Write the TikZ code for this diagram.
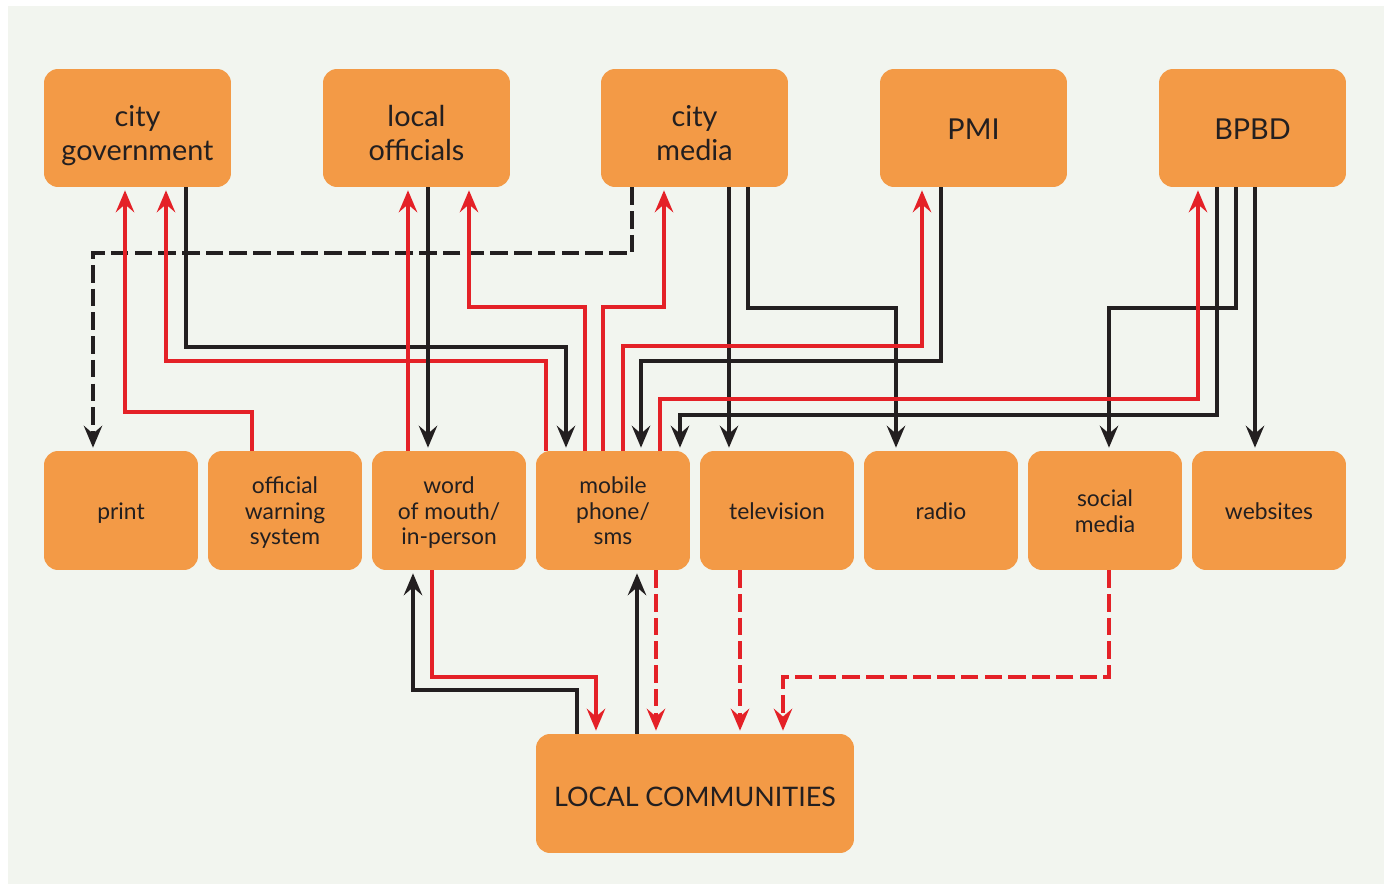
\documentclass[tikz,border=0pt]{standalone}
\usepackage{fontspec}
\setmainfont{Lato}
\usetikzlibrary{arrows.meta}
\definecolor{boxorange}{HTML}{F39A46}
\definecolor{linered}{HTML}{E42127}
\definecolor{lineblack}{HTML}{231F20}
\definecolor{paper}{HTML}{F2F5EF}
\begin{document}
\begin{tikzpicture}[x=0.02cm,y=-0.02cm,
  box/.style={fill=boxorange,rounded corners=0.28cm,inner sep=0pt,align=center,text=lineblack},
  lift/.style={execute at begin node={\rule{0pt}{#1}}},
  topbox/.style={box,minimum width=3.74cm,minimum height=2.36cm,font=\fontsize{16.4}{18.9}\selectfont,
    lift=17pt,text depth=3.4pt},
  top2/.style={topbox,lift=40pt},
  midbox/.style={box,minimum width=3.08cm,minimum height=2.38cm,font=\fontsize{13}{14.7}\selectfont,
    lift=13.8pt,text depth=4pt},
  mid2/.style={midbox,lift=28.5pt},
  mid3/.style={midbox,lift=43.2pt},
  lowbox/.style={box,minimum width=6.36cm,minimum height=2.38cm,font=\fontsize{15.3}{18}\selectfont,
    lift=15.5pt,text depth=1.2pt},
  tip/.style={-{Stealth[length=12.5pt,width=10.5pt,inset=4.5pt]},shorten >=1.7pt},
  rline/.style={draw=linered,line width=1.8pt,tip},
  bline/.style={draw=lineblack,line width=1.8pt,tip},
  dashes/.style={dash pattern=on 10pt off 3.5pt}]
\useasboundingbox (0,0) rectangle (1384,884);
\fill [paper] (8,6) rectangle (1384,884);
\node [top2] (cg) at (137.5,128) {city\\government};
\node [top2] (lo) at (416.5,128) {local\\officials};
\node [top2] (cm) at (694.5,128) {city\\media};
\node [topbox] (pmi) at (973.5,128) {PMI};
\node [topbox] (bpbd) at (1252.5,128) {BPBD};
\node [midbox] (print) at (121,510.5) {print};
\node [mid3] (ows) at (285,510.5) {official\\warning\\system};
\node [mid3] (wom) at (449,510.5) {word\\of mouth/\\in-person};
\node [mid3] (mob) at (613,510.5) {mobile\\phone/\\sms};
\node [midbox] (tv) at (777,510.5) {television};
\node [midbox] (radio) at (941,510.5) {radio};
\node [mid2] (sm) at (1105,510.5) {social\\media};
\node [midbox] (web) at (1269,510.5) {websites};
\node [lowbox] (lc) at (695,793.5) {LOCAL COMMUNITIES};
\draw [bline,dashes] (cm.south -| 632,0) |- (93,253) -- (print.north -| 93,0);
\draw [rline] (ows.north -| 252,0) |- (125,412) -- (cg.south -| 125,0);
\draw [rline] (mob.north -| 546,0) |- (166,361) -- (cg.south -| 166,0);
\draw [bline] (cg.south -| 186,0) |- (566,347) -- (mob.north -| 566,0);
\draw [rline] (wom.north -| 408,0) -- (lo.south -| 408,0);
\draw [bline] (lo.south -| 428,0) -- (wom.north -| 428,0);
\draw [rline] (mob.north -| 585,0) |- (469,307) -- (lo.south -| 469,0);
\draw [rline] (mob.north -| 603,0) |- (664,307) -- (cm.south -| 664,0);
\draw [bline] (cm.south -| 729,0) -- (tv.north -| 729,0);
\draw [bline] (cm.south -| 748,0) |- (896,308) -- (radio.north -| 896,0);
\draw [bline] (bpbd.south -| 1236,0) |- (1109,308) -- (sm.north -| 1109,0);
\draw [bline] (bpbd.south -| 1255,0) -- (web.north -| 1255,0);
\draw [rline] (mob.north -| 623,0) |- (922,346) -- (pmi.south -| 922,0);
\draw [bline] (pmi.south -| 941,0) |- (641,361) -- (mob.north -| 641,0);
\draw [rline] (mob.north -| 660,0) |- (1198,399) -- (bpbd.south -| 1198,0);
\draw [bline] (bpbd.south -| 1217,0) |- (680,415) -- (mob.north -| 680,0);
\draw [bline] (lc.north -| 577,0) |- (413,690) -- (wom.south -| 413,0);
\draw [rline] (wom.south -| 432,0) |- (596,677) -- (lc.north -| 596,0);
\draw [bline] (lc.north -| 637,0) -- (mob.south -| 637,0);
\draw [rline,dashes] (mob.south -| 656,0) -- (lc.north -| 656,0);
\draw [rline,dashes] (tv.south -| 740,0) -- (lc.north -| 740,0);
\draw [rline,dashes] (sm.south -| 1109,0) |- (783,677) -- (lc.north -| 783,0);
\end{tikzpicture}
\end{document}
